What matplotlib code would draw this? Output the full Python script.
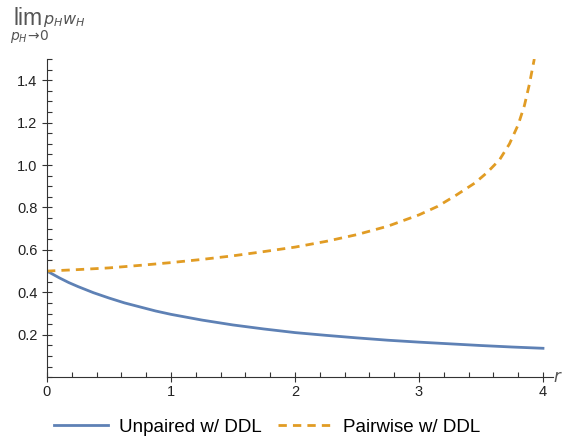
import numpy as np
import matplotlib.pyplot as plt
from matplotlib.ticker import MultipleLocator

# values
r_unpaired = [0, 0.05, 0.1, 0.175, 0.25, 0.375, 0.5, 0.625, 0.75, 0.875, 1.0, 1.25, 1.5, 1.75, 2.0,
              2.25, 2.5, 2.75, 3.0, 3.25, 3.5, 3.75, 4.0]
unpaired = [0.5, 0.484, 0.468, 0.446, 0.427, 0.398, 0.373, 0.35, 0.331, 0.312, 0.296, 0.269, 0.246,
            0.227, 0.21, 0.197, 0.185, 0.174, 0.165, 0.157, 0.149, 0.142, 0.136]

r_pairwise = [0, 0.25, 0.5, 0.75, 1.0, 1.25, 1.5, 1.75, 2.0, 2.25, 2.5, 2.75, 3.0, 3.15, 3.3, 3.45,
              3.55, 3.65, 3.73, 3.8, 3.85, 3.89, 3.93]
pairwise = [0.5, 0.507, 0.515, 0.527, 0.54, 0.555, 0.572, 0.592, 0.613, 0.64, 0.672, 0.712, 0.765, 0.805,
            0.858, 0.915, 0.965, 1.025, 1.10, 1.19, 1.28, 1.38, 1.5]

plt.rcParams['font.family'] = ['Liberation Sans', 'DejaVu Sans']
blue = '#5E81B5'
orange = '#E19C24'

fig = plt.figure(figsize=(5.71, 4.37), dpi=100)
ax = fig.add_axes([0.0823, 0.137, 0.886, 0.728])

ax.plot(r_unpaired, unpaired, color=blue, lw=2, label='Unpaired w/ DDL')
ax.plot(r_pairwise, pairwise, color=orange, lw=2, ls=(0, (3, 2.2)), label='Pairwise w/ DDL')

ax.set_xlim(0, 4.08)
ax.set_ylim(0, 1.5)
ax.spines['top'].set_visible(False)
ax.spines['right'].set_visible(False)
ax.spines['left'].set_color('#333333')
ax.spines['bottom'].set_color('#333333')
ax.set_xticks([0, 1, 2, 3, 4])
ax.set_yticks([0.2, 0.4, 0.6, 0.8, 1.0, 1.2, 1.4])
ax.set_yticklabels(['0.2', '0.4', '0.6', '0.8', '1.0', '1.2', '1.4'])
ax.xaxis.set_minor_locator(MultipleLocator(0.2))
ax.yaxis.set_minor_locator(MultipleLocator(0.05))
ax.tick_params(which='major', direction='inout', length=7, width=0.8, labelsize=10.5, colors='#333333', labelcolor='#222222')
ax.tick_params(which='minor', direction='in', length=3.5, width=0.8, colors='#333333')
ax.tick_params(axis='x', which='major', pad=2)

ax.text(1.0, 0.0, '$r$', transform=ax.transAxes, fontsize=12, color='#555555', ha='left', va='center')

fig.text(0.023, 0.957, 'lim', fontsize=16.5, color='#555555', ha='left', va='center')
fig.text(0.018, 0.916, r'$p_H\!\rightarrow\!0$', fontsize=10, color='#555555', ha='left', va='center')
fig.text(0.075, 0.953, r'$p_H w_H$', fontsize=11.5, color='#555555', ha='left', va='center')

fig.legend(loc='center', bbox_to_anchor=(0.468, 0.023), ncol=2, frameon=False, fontsize=13.5,
           handlelength=2.9, columnspacing=0.9, handletextpad=0.55)

fig.savefig('out.png', dpi=100)
